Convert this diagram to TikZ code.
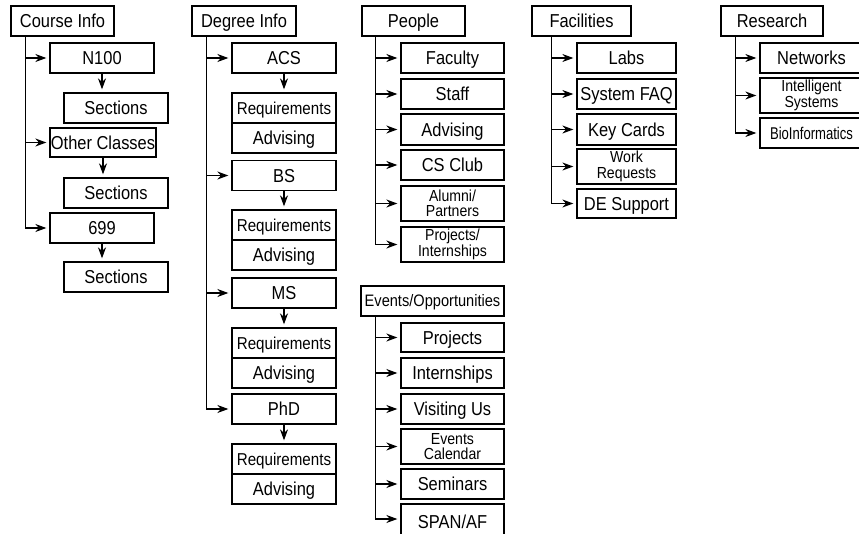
\documentclass[tikz,border=0pt]{standalone}
\usepackage{fontspec}
\setmainfont{Liberation Sans}[FakeStretch=0.88]
\usetikzlibrary{arrows.meta}

\tikzset{every picture/.style={line width=1.3pt}}
\tikzset{
  box/.style={draw, inner sep=0pt, minimum height=30pt, minimum width=104pt, font=\fontsize{18.7}{20}\selectfont, text height=13.3pt, text depth=0pt},
  reqbox/.style={box, font=\fontsize{17.2}{19}\selectfont, text height=12.3pt},
  twobox/.style={draw, inner sep=0pt, minimum height=35pt, minimum width=104pt, align=center, font=\fontsize{16}{15.5}\selectfont},
  arr/.style={-{Stealth[length=11pt,width=8pt]}, shorten >=3pt},
}

\begin{document}
\begin{tikzpicture}[x=1pt,y=1pt,yscale=-1]
\useasboundingbox (0,0) rectangle (859,533);
\clip (0,0) rectangle (859,533);

%Course Info column
\node[box, minimum width=103pt] (ci) at (62.5,21) {Course Info};
\node[box] (n100) at (102,58) {N100};
\node[box] (sec1) at (116,108) {Sections};
\node[box, minimum width=106pt, minimum height=29pt] (oth) at (103,142.5) {Other Classes};
\node[box] (sec2) at (116,193) {Sections};
\node[box] (c699) at (102,228) {699};
\node[box] (sec3) at (116,277) {Sections};
\coordinate (ci-t) at ([xshift=15pt]ci.south west);
\draw[arr] (ci-t) |- (n100);
\draw[arr] (ci-t) |- (oth);
\draw[arr] (ci-t) |- (c699);
\draw[arr] (n100.south) -- (n100.south |- sec1.north);
\draw[arr] (oth.south) -- (oth.south |- sec2.north);
\draw[arr] (c699.south) -- (c699.south |- sec3.north);

%Degree Info column
\node[box] (di) at (244,21) {Degree Info};
\node[box] (acs) at (284,58) {ACS};
\node[reqbox] (req1) at (284,108) {Requirements};
\node[box] (adv1) at (284,138) {Advising};
\node[box] (bs) at (284,175.5) {BS};
\node[reqbox] (req2) at (284,225) {Requirements};
\node[box] (adv2) at (284,255) {Advising};
\node[box] (ms) at (284,293) {MS};
\node[reqbox] (req3) at (284,343) {Requirements};
\node[box] (adv3) at (284,373) {Advising};
\node[box] (phd) at (284,409) {PhD};
\node[reqbox] (req4) at (284,459) {Requirements};
\node[box] (adv4) at (284,489) {Advising};
\coordinate (di-t) at ([xshift=15pt]di.south west);
\draw[arr] (di-t) |- (acs);
\draw[arr] (di-t) |- (bs);
\draw[arr] (di-t) |- (ms);
\draw[arr] (di-t) |- (phd);
\draw[arr] (acs.south) -- (acs.south |- req1.north);
\draw[arr] (bs.south) -- (bs.south |- req2.north);
\draw[arr] (ms.south) -- (ms.south |- req3.north);
\draw[arr] (phd.south) -- (phd.south |- req4.north);

%People column
\node[box, minimum width=103pt] (pe) at (413.5,21) {People};
\node[box, minimum width=103pt] (fac) at (452.5,58) {Faculty};
\node[box, minimum width=103pt] (staff) at (452.5,94) {Staff};
\node[box, minimum width=103pt, minimum height=31pt] (advp) at (452.5,129.5) {Advising};
\node[box, minimum width=103pt] (csc) at (452.5,165) {CS Club};
\node[twobox, minimum width=103pt] (alum) at (452.5,203.5) {Alumni/\\Partners};
\node[twobox, minimum width=103pt] (proj) at (452.5,244.5) {Projects/\\Internships};
\coordinate (pe-t) at ([xshift=14pt]pe.south west);
\draw[arr] (pe-t) |- (fac);
\draw[arr] (pe-t) |- (staff);
\draw[arr] (pe-t) |- (advp);
\draw[arr] (pe-t) |- (csc);
\draw[arr] (pe-t) |- (alum);
\draw[arr] (pe-t) |- (proj);

%Events column
\node[box, minimum width=143pt, font=\fontsize{16.6}{18}\selectfont, text height=11.9pt] (ev) at (432.5,301) {Events/Opportunities};
\node[box, minimum width=103pt, minimum height=29pt] (epr) at (452.5,337.5) {Projects};
\node[box, minimum width=103pt] (int) at (452.5,373) {Internships};
\node[box, minimum width=103pt] (vis) at (452.5,409) {Visiting Us};
\node[twobox, minimum width=103pt] (cal) at (452.5,446.5) {Events\\Calendar};
\node[box, minimum width=103pt] (sem) at (452.5,484) {Seminars};
\node[box, minimum width=103pt, minimum height=36pt] (span) at (452.5,522) {SPAN/AF};
\coordinate (ev-t) at ([xshift=15pt]ev.south west);
\draw[arr] (ev-t) |- (epr);
\draw[arr] (ev-t) |- (int);
\draw[arr] (ev-t) |- (vis);
\draw[arr] (ev-t) |- (cal);
\draw[arr] (ev-t) |- (sem);
\draw[arr] (ev-t) |- ([yshift=-3pt]span.west);

%Facilities column
\node[box, minimum width=99pt] (fa) at (581.5,21) {Facilities};
\node[box, minimum width=99pt] (labs) at (626.5,58) {Labs};
\node[box, minimum width=99pt] (faq) at (626.5,94) {System FAQ};
\node[box, minimum width=99pt, minimum height=31pt] (key) at (626.5,129.5) {Key Cards};
\node[twobox, minimum width=99pt] (work) at (626.5,166.5) {Work\\Requests};
\node[box, minimum width=99pt, minimum height=29pt] (des) at (626.5,203.5) {DE Support};
\coordinate (fa-t) at ([xshift=20pt]fa.south west);
\draw[arr] (fa-t) |- (labs);
\draw[arr] (fa-t) |- (faq);
\draw[arr] (fa-t) |- (key);
\draw[arr] (fa-t) |- (work);
\draw[arr] (fa-t) |- (des);

%Research column
\node[box, minimum width=102pt] (re) at (772,21) {Research};
\node[box, minimum width=103pt] (net) at (811.5,58) {Networks};
\node[twobox, minimum width=103pt] (isys) at (811.5,95.5) {Intelligent\\Systems};
\node[box, minimum width=103pt, font=\fontsize{17}{19}\selectfont\addfontfeatures{FakeStretch=0.77}, text height=12.2pt] (bio) at (811.5,133) {BioInformatics};
\coordinate (re-t) at ([xshift=15pt]re.south west);
\draw[arr] (re-t) |- (net);
\draw[arr] (re-t) |- (isys);
\draw[arr] (re-t) |- (bio);

\end{tikzpicture}
\end{document}
